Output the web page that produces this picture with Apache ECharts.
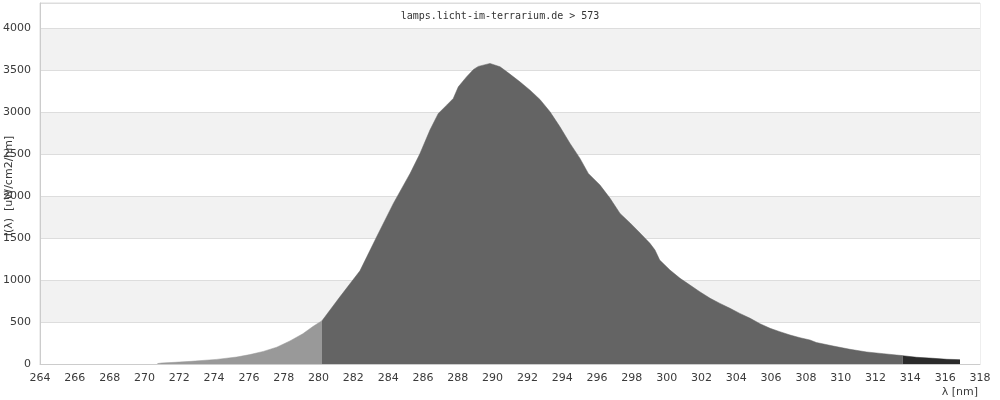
<!DOCTYPE html>
<html>
<head>
<meta charset="utf-8">
<script src="https://cdn.jsdelivr.net/npm/echarts@6/dist/echarts.min.js"></script>
<style>html,body{margin:0;padding:0;background:#fff}#c{width:1000px;height:400px}</style>
</head>
<body>
<div id="c"></div>
<script>
const titleText = 'lamps.licht-im-terrarium.de > 573';
const yName = 'I(λ)  [uW/cm2/nm]';
const xName = 'λ [nm]';

// UVC part (< 280.2 nm)
const uvcLambda = [270.75, 271.0, 271.75, 272.7, 274.15, 275.3, 276.06, 276.83, 277.6, 278.36, 279.1, 279.7, 280.2];
const uvcValue  = [5, 12, 20, 32, 55, 83, 112, 150, 200, 275, 360, 450, 515];

// UVB part (280.2 - 313.55 nm)
const uvbLambda = [280.2, 281.23, 282.38, 283.34, 284.3, 285.26, 285.83, 286.4, 286.88, 287.36, 287.74, 288.03, 288.5, 288.9, 289.18, 289.85, 290.43, 290.9, 291.57, 292.15, 292.72, 293.3, 293.87, 294.45, 295.02, 295.5, 296.17, 296.75, 297.32, 297.9, 298.47, 299.04, 299.33, 299.6, 300.19, 300.77, 301.34, 301.9, 302.5, 303.06, 303.64, 304.2, 304.8, 305.36, 305.94, 306.5, 307.09, 307.66, 308.23, 308.6, 309.57, 310.53, 311.49, 312.45, 313.2, 313.55];
const uvbValue  = [515, 800, 1110, 1515, 1913, 2270, 2508, 2786, 2984, 3083, 3163, 3301, 3420, 3508, 3545, 3580, 3540, 3468, 3361, 3262, 3151, 3004, 2825, 2627, 2449, 2270, 2131, 1973, 1794, 1680, 1560, 1437, 1357, 1238, 1119, 1020, 940, 861, 782, 722, 663, 603, 544, 480, 425, 385, 345, 313, 286, 256, 214, 175, 143, 123, 107, 100];

// UVA part (> 313.55 nm)
const uvaLambda = [313.55, 314.36, 315.3, 316.1, 316.85];
const uvaValue  = [99, 80, 68, 56, 52];

function pairs(xs, ys) { return xs.map((x, i) => [x, ys[i]]); }

const chart = echarts.init(document.getElementById('c'), null, {renderer: 'canvas'});

function areaSeries(name, xs, ys, color) {
  return {
    name: name, type: 'line', data: pairs(xs, ys),
    showSymbol: false, symbol: 'none', animation: false,
    lineStyle: {width: 0.5, color: color},
    areaStyle: {color: color, opacity: 1},
    z: 3
  };
}

chart.setOption({
  animation: false,
  backgroundColor: '#fff',
  grid: {left: 40, right: 20, top: 3, bottom: 36, containLabel: false, outerBoundsMode: 'none',
         show: true, borderColor: '#dddddd', borderWidth: 1, backgroundColor: 'transparent'},
  title: {
    text: titleText, left: 'center', top: 6,
    textStyle: {fontFamily: 'DejaVu Sans Mono', fontSize: 10, fontWeight: 'normal', color: '#333'}
  },
  xAxis: {
    type: 'value', min: 264, max: 318, interval: 2,
    axisLine: {show: true, lineStyle: {color: '#cccccc'}},
    axisTick: {show: false},
    splitLine: {show: false},
    axisLabel: {fontFamily: 'DejaVu Sans', fontSize: 11, color: '#3a3a3a', margin: 9, formatter: v => String(v)}
  },
  yAxis: {
    type: 'value', min: 0, max: 4300, interval: 500,
    axisLine: {show: true, lineStyle: {color: '#cccccc'}},
    axisTick: {show: false},
    axisLabel: {fontFamily: 'DejaVu Sans', fontSize: 11, color: '#3a3a3a', margin: 9, showMaxLabel: false, formatter: v => String(v)},
    splitLine: {show: true, lineStyle: {color: '#dddddd'}},
    splitArea: {show: true, areaStyle: {color: ['#ffffff', '#f2f2f2']}}
  },
  graphic: [{
    type: 'text', right: 22, top: 387,
    style: {text: xName, fontFamily: 'DejaVu Sans', fontSize: 11, fill: '#3a3a3a'}
  }, {
    type: 'text', x: 9, y: 186, rotation: Math.PI / 2, z: 100,
    style: {text: yName, fontFamily: 'DejaVu Sans', fontSize: 11, fill: '#3a3a3a', align: 'center', verticalAlign: 'middle'}
  }],
  series: [
    areaSeries('uvc', uvcLambda, uvcValue, '#999999'),
    areaSeries('uvb', uvbLambda, uvbValue, '#646464'),
    areaSeries('uva', uvaLambda, uvaValue, '#2b2b2b')
  ]
});
</script>
</body>
</html>
